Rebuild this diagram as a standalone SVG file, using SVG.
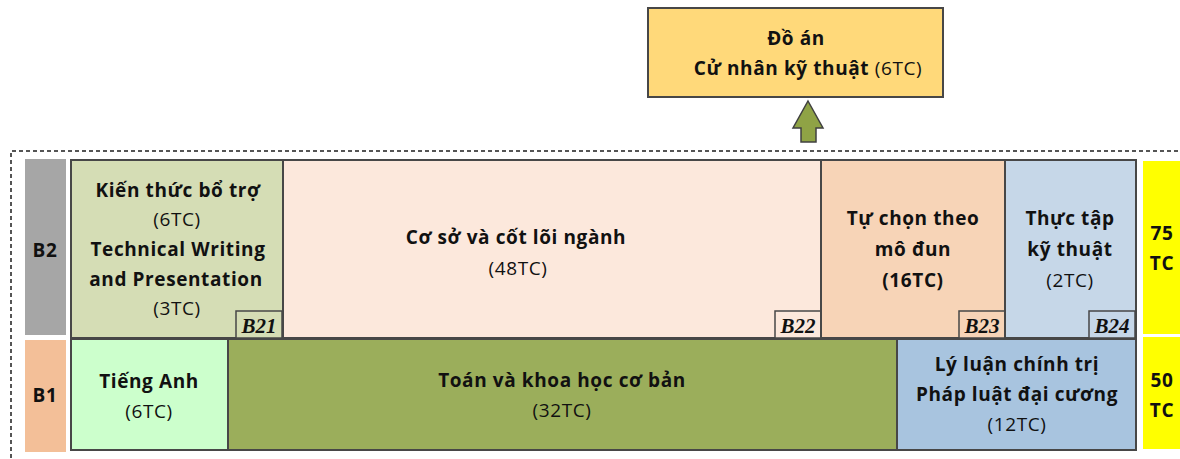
<svg xmlns="http://www.w3.org/2000/svg" width="1180" height="459" viewBox="0 0 1180 459">
<style>
text{font-family:"Open Sans","Liberation Sans",sans-serif;font-size:19px;fill:#111;text-anchor:middle;letter-spacing:0.6px}
.b{font-weight:bold}
.tag{font-family:"Liberation Serif","Times New Roman",serif;font-weight:bold;font-style:italic;font-size:21px;letter-spacing:0}
.box{stroke:#474747;stroke-width:2}
.tagbox{stroke:#474747;stroke-width:1.5}
</style>
<rect width="1180" height="459" fill="#fff"/>
<g id="connectors">
<path d="M11 458 V151 H1180" fill="none" stroke="#555" stroke-width="2" stroke-dasharray="4 3"/>
<polygon points="808,101 823,128 816,128 816,142 801,142 801,128 793,128" fill="#8FA345" stroke="#404040" stroke-width="1.5"/>
</g>
<g id="do-an">
<rect x="648" y="8" width="295" height="89" fill="#FFD97A" class="box"/>
<text x="796" y="45" class="b">Đồ án</text>
<text x="808" y="75"><tspan class="b">Cử nhân kỹ thuật</tspan> (6TC)</text>
</g>
<g id="b2-label">
<rect x="25" y="159" width="41" height="176" fill="#A6A6A6"/>
<text x="45" y="257" class="b">B2</text>
</g>
<g id="b1-label">
<rect x="25" y="340" width="41" height="112" fill="#F3BF98"/>
<text x="45" y="402" class="b">B1</text>
</g>
<g id="b21">
<rect x="71" y="160" width="212" height="178" fill="#D5DDB5" class="box"/>
<text x="178" y="197" class="b">Kiến thức bổ trợ</text>
<text x="177" y="226">(6TC)</text>
<text x="178" y="256" class="b">Technical Writing</text>
<text x="176" y="286" class="b">and Presentation</text>
<text x="177" y="315">(3TC)</text>
<rect x="236" y="311" width="46" height="27" fill="#D5DDB5" class="tagbox"/>
<text x="259" y="333" class="tag">B21</text>
</g>
<g id="b22">
<rect x="283" y="160" width="538" height="178" fill="#FCE8DC" class="box"/>
<text x="516" y="244" class="b">Cơ sở và cốt lõi ngành</text>
<text x="518" y="275">(48TC)</text>
<rect x="775" y="311" width="46" height="27" fill="#FCE8DC" class="tagbox"/>
<text x="798" y="333" class="tag">B22</text>
</g>
<g id="b23">
<rect x="821" y="160" width="184" height="178" fill="#F7D4B7" class="box"/>
<text x="913" y="225" class="b">Tự chọn theo</text>
<text x="913" y="256" class="b">mô đun</text>
<text x="913" y="287" class="b">(16TC)</text>
<rect x="959" y="311" width="46" height="27" fill="#F7D4B7" class="tagbox"/>
<text x="982" y="333" class="tag">B23</text>
</g>
<g id="b24">
<rect x="1005" y="160" width="131" height="178" fill="#C6D7E8" class="box"/>
<text x="1070" y="225" class="b">Thực tập</text>
<text x="1070" y="256" class="b">kỹ thuật</text>
<text x="1070" y="287">(2TC)</text>
<rect x="1089" y="311" width="46" height="27" fill="#C6D7E8" class="tagbox"/>
<text x="1112" y="333" class="tag">B24</text>
</g>
<g id="tieng-anh">
<rect x="71" y="339" width="157" height="111" fill="#CCFFCC" class="box"/>
<text x="149" y="388" class="b">Tiếng Anh</text>
<text x="149" y="418">(6TC)</text>
</g>
<g id="toan">
<rect x="228" y="339" width="669" height="111" fill="#9BAE5B" class="box"/>
<text x="562" y="387" class="b">Toán và khoa học cơ bản</text>
<text x="562" y="417">(32TC)</text>
</g>
<g id="ly-luan">
<rect x="897" y="339" width="239" height="111" fill="#A8C4DF" class="box"/>
<text x="1017" y="371" class="b">Lý luận chính trị</text>
<text x="1017" y="401" class="b">Pháp luật đại cương</text>
<text x="1017" y="431">(12TC)</text>
</g>
<g id="tc75">
<rect x="1143" y="161" width="37" height="173" fill="#FFFF00"/>
<text x="1162" y="240" class="b">75</text>
<text x="1162" y="270" class="b">TC</text>
</g>
<g id="tc50">
<rect x="1143" y="337" width="37" height="112" fill="#FFFF00"/>
<text x="1162" y="387" class="b">50</text>
<text x="1162" y="417" class="b">TC</text>
</g>
</svg>
